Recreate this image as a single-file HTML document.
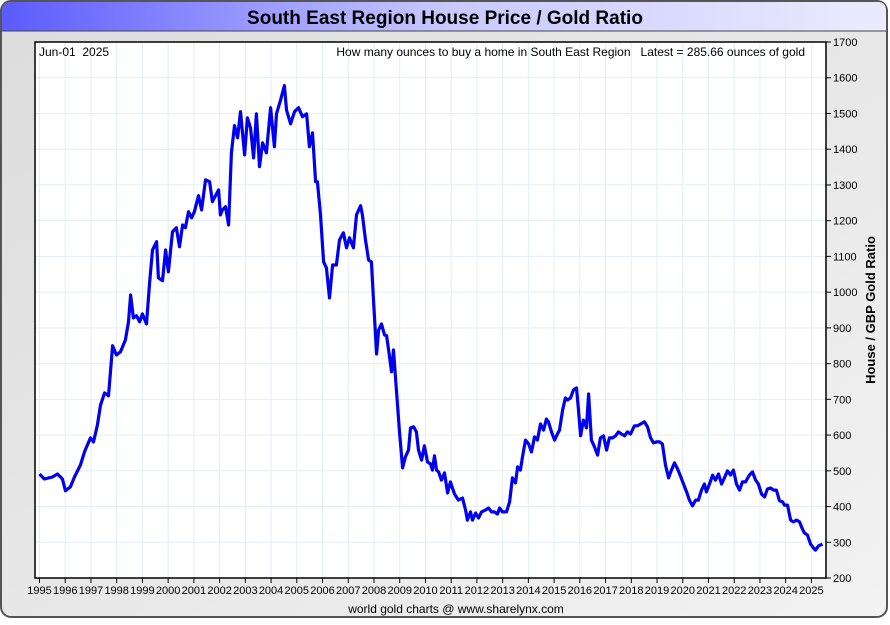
<!DOCTYPE html>
<html><head><meta charset="utf-8">
<style>
html,body{margin:0;padding:0;background:#fff;}
body{width:890px;height:620px;overflow:hidden;font-family:"Liberation Sans",sans-serif;}
text{white-space:pre;}
</style></head>
<body>
<svg id="chart" width="890" height="620" xmlns="http://www.w3.org/2000/svg" font-family="Liberation Sans, sans-serif" xml:space="preserve">
<defs>
<linearGradient id="tg" x1="0" x2="1" y1="0" y2="0"><stop offset="0" stop-color="#5b5bff"/><stop offset="0.5" stop-color="#c8c8ff"/><stop offset="1" stop-color="#ebebff"/></linearGradient>
<linearGradient id="bg" x1="0" x2="1" y1="0" y2="1"><stop offset="0" stop-color="#dcdcdc"/><stop offset="1" stop-color="#f2f2f2"/></linearGradient>
</defs>
<rect x="1" y="1" width="886" height="616" rx="10" fill="url(#bg)" stroke="#555" stroke-width="2"/>
<path d="M2,31 L2,11 Q2,2 11,2 L878,2 Q886,2 886,11 L886,31 Z" fill="url(#tg)"/>
<line x1="2" y1="31" x2="886" y2="31" stroke="#444" stroke-width="1"/>
<text x="445" y="24" text-anchor="middle" font-size="19" font-weight="bold" fill="#000">South East Region House Price / Gold Ratio</text>
<rect x="35" y="42" width="791" height="536" fill="#fff"/>
<g id="grid"></g>
<g id="xaxis"></g>
<g id="yaxis"></g>
<polyline id="series" fill="none" stroke="#0000ee" stroke-width="3.2" stroke-linejoin="round"/>
<rect x="35" y="42" width="791" height="536" fill="none" stroke="#000" stroke-width="1.5"/>
<text x="39" y="56" font-size="12" fill="#000">Jun-01  2025</text>
<text x="805" y="56" text-anchor="end" font-size="12" fill="#000">How many ounces to buy a home in South East Region   Latest = 285.66 ounces of gold</text>
<text transform="translate(875,310) rotate(-90)" text-anchor="middle" font-size="13" font-weight="bold" fill="#000">House / GBP Gold Ratio</text>
<text x="456" y="613" text-anchor="middle" font-size="12" fill="#000">world gold charts @ www.sharelynx.com</text>
</svg>
<script>
const years=[1995.00,1995.19,1995.51,1995.70,1995.89,1996.01,1996.20,1996.36,1996.59,1996.75,1996.98,1997.10,1997.25,1997.37,1997.53,1997.68,1997.84,1997.99,1998.15,1998.34,1998.46,1998.54,1998.65,1998.77,1998.89,1999.00,1999.16,1999.28,1999.39,1999.55,1999.62,1999.78,1999.90,2000.01,2000.17,2000.32,2000.44,2000.56,2000.67,2000.79,2000.91,2001.02,2001.18,2001.30,2001.45,2001.61,2001.72,2001.84,2001.96,2002.03,2002.11,2002.23,2002.35,2002.46,2002.58,2002.70,2002.81,2002.97,2003.08,2003.20,2003.32,2003.43,2003.55,2003.67,2003.82,2003.98,2004.13,2004.21,2004.37,2004.52,2004.60,2004.76,2004.91,2005.07,2005.22,2005.38,2005.49,2005.61,2005.73,2005.80,2005.92,2006.04,2006.15,2006.27,2006.39,2006.54,2006.66,2006.81,2006.93,2007.05,2007.20,2007.32,2007.48,2007.55,2007.67,2007.79,2007.90,2007.98,2008.10,2008.18,2008.29,2008.41,2008.49,2008.60,2008.68,2008.76,2008.87,2008.99,2009.11,2009.22,2009.34,2009.42,2009.54,2009.65,2009.73,2009.85,2009.96,2010.08,2010.20,2010.27,2010.35,2010.43,2010.51,2010.62,2010.74,2010.86,2010.97,2011.13,2011.28,2011.44,2011.56,2011.63,2011.75,2011.83,2011.95,2012.06,2012.18,2012.33,2012.45,2012.57,2012.68,2012.80,2012.88,2012.99,2013.15,2013.27,2013.38,2013.50,2013.58,2013.69,2013.77,2013.89,2014.01,2014.12,2014.24,2014.35,2014.47,2014.59,2014.70,2014.78,2014.90,2015.02,2015.13,2015.21,2015.33,2015.44,2015.52,2015.64,2015.75,2015.87,2015.95,2016.03,2016.14,2016.26,2016.34,2016.45,2016.57,2016.69,2016.80,2016.92,2017.04,2017.15,2017.27,2017.39,2017.50,2017.62,2017.74,2017.85,2017.97,2018.12,2018.24,2018.36,2018.51,2018.63,2018.75,2018.86,2018.98,2019.10,2019.21,2019.33,2019.45,2019.56,2019.68,2019.80,2019.91,2020.03,2020.15,2020.26,2020.38,2020.50,2020.61,2020.73,2020.84,2020.92,2021.04,2021.16,2021.27,2021.39,2021.51,2021.62,2021.74,2021.86,2021.97,2022.09,2022.21,2022.32,2022.44,2022.59,2022.71,2022.83,2022.94,2023.06,2023.18,2023.29,2023.41,2023.53,2023.64,2023.76,2023.88,2023.95,2024.07,2024.19,2024.30,2024.42,2024.54,2024.65,2024.73,2024.85,2024.97,2025.08,2025.16,2025.28,2025.43];
const ratios=[491,477,483,491,477,444,455,483,516,553,592,581,628,684,718,710,850,824,833,866,917,992,928,934,917,939,911,1026,1118,1141,1040,1032,1118,1057,1169,1180,1127,1188,1180,1225,1208,1225,1270,1230,1314,1309,1253,1270,1286,1216,1230,1239,1188,1390,1466,1432,1505,1384,1488,1460,1376,1499,1351,1418,1390,1516,1407,1499,1538,1578,1510,1471,1505,1516,1491,1499,1407,1446,1309,1309,1216,1085,1068,984,1076,1076,1146,1166,1124,1152,1124,1216,1242,1216,1146,1090,1085,978,827,894,911,880,878,822,777,838,726,609,508,539,558,620,623,609,558,530,570,525,519,502,542,502,497,474,494,438,469,435,418,424,390,362,385,362,382,368,385,390,396,385,385,379,396,385,385,413,480,466,511,502,539,586,575,553,595,586,631,614,645,637,609,586,603,614,670,704,698,704,726,732,670,598,642,620,715,586,567,544,592,598,558,592,592,598,609,603,598,609,603,626,626,631,637,623,592,578,581,581,575,516,480,502,522,505,486,463,441,418,402,418,418,446,463,441,463,488,474,491,463,480,500,488,502,463,446,469,469,488,497,474,463,435,427,449,452,446,446,416,413,404,404,362,357,362,357,337,326,320,295,284,278,290,295];
const xTicks=[1995,1996,1997,1998,1999,2000,2001,2002,2003,2004,2005,2006,2007,2008,2009,2010,2011,2012,2013,2014,2015,2016,2017,2018,2019,2020,2021,2022,2023,2024,2025];
const yTicks=[200,300,400,500,600,700,800,900,1000,1100,1200,1300,1400,1500,1600,1700];
const NS='http://www.w3.org/2000/svg';
function xS(yr){return 39.5+(yr-1995)*25.73;}
function yS(v){return 578-(v-200)*536/1500;}
function mk(tag,attrs,parent){const e=document.createElementNS(NS,tag);for(const k in attrs)e.setAttribute(k,attrs[k]);parent.appendChild(e);return e;}
const grid=document.getElementById('grid'),xa=document.getElementById('xaxis'),ya=document.getElementById('yaxis');
xTicks.forEach(t=>{
  const x=xS(t);
  const g=mk('line',{x1:x,x2:x,y1:42,y2:578,stroke:'#e2eef8','stroke-width':1},grid);
  
  
  mk('line',{x1:x,x2:x,y1:578,y2:583,stroke:'#000','stroke-width':1},xa);
  const tx=mk('text',{x:x,y:594,'text-anchor':'middle','font-size':11,fill:'#000'},xa);
  tx.textContent=t;
  
  
});
yTicks.forEach(t=>{
  const y=yS(t);
  const g=mk('line',{x1:35,x2:826,y1:y,y2:y,stroke:'#e2eef8','stroke-width':1},grid);
  
  
  mk('line',{x1:826,x2:831,y1:y,y2:y,stroke:'#000','stroke-width':1},ya);
  const tx=mk('text',{x:833,y:y+4,'font-size':11,fill:'#000'},ya);
  tx.textContent=t;
  
  
});
document.getElementById('series').setAttribute('points',years.map((yr,i)=>xS(yr).toFixed(1)+','+yS(ratios[i]).toFixed(1)).join(' '));
</script>
</body></html>
